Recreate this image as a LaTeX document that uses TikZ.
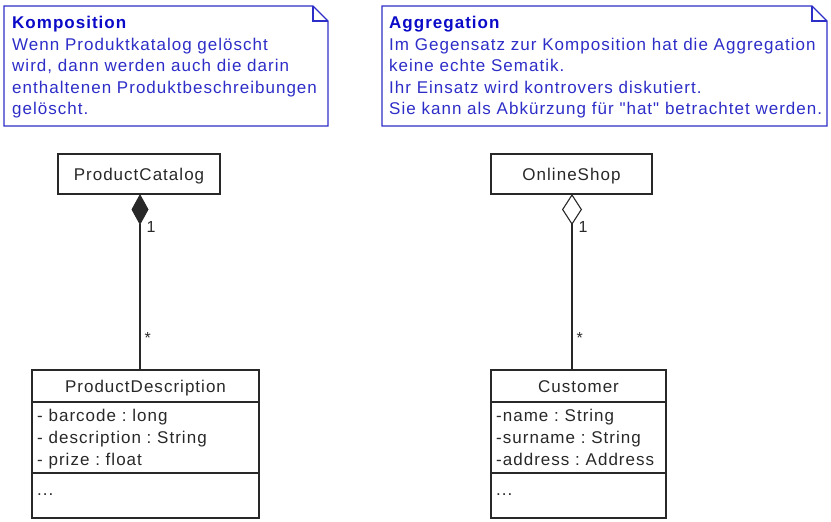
\documentclass[tikz,border=0pt]{standalone}
\usepackage{fontspec}
\setmainfont[LetterSpace=6,Ligatures=TeXOff]{Liberation Sans}
\frenchspacing
\usetikzlibrary{positioning,arrows.meta}
\definecolor{noteblue}{RGB}{45,45,200}
\definecolor{titleblue}{RGB}{10,10,200}
\definecolor{umlgray}{RGB}{40,40,40}
\tikzset{
  notebox/.style={draw=noteblue, line width=1.2pt},
  notetext/.style={anchor=north west, inner sep=0pt, align=left, text=noteblue,
    font=\fontsize{17}{21.6}\selectfont},
  classhead/.style={draw=umlgray, line width=1.1pt, inner sep=0pt, outer sep=0pt, text=umlgray,
    text height=13pt, text depth=0pt, font=\fontsize{17}{21}\selectfont},
  classpart/.style={draw=umlgray, line width=1.1pt, inner sep=0pt, outer sep=0pt, anchor=north,
    minimum width=#1},
  membertext/.style={anchor=north west, inner sep=0pt, align=left, text=umlgray,
    font=\fontsize{17}{21.8}\selectfont},
  mult/.style={inner sep=0pt, text=umlgray, font=\fontsize{16}{16}\selectfont},
  assoc/.style={draw=umlgray, line width=1.1pt},
}
\begin{document}
\begin{tikzpicture}[x=1pt,y=-1pt]
\useasboundingbox (0,0) rectangle (831,522);
% notes
\draw[notebox] (4,6) -- (313,6) -- (328,21) -- (328,126) -- (4,126) -- cycle;
\draw[notebox] (313,6) -- (313,21) -- (328,21);
\node[notetext] (komp) at (12,16) {\textcolor{titleblue}{\textbf{Komposition}}\\
  Wenn Produktkatalog gelöscht\\wird, dann werden auch die darin\\
  enthaltenen Produktbeschreibungen\\gelöscht.};
\draw[notebox] (382,6) -- (812,6) -- (827,21) -- (827,126) -- (382,126) -- cycle;
\draw[notebox] (812,6) -- (812,21) -- (827,21);
\node[notetext] (aggr) at (389,16) {\textcolor{titleblue}{\textbf{Aggregation}}\\
  Im Gegensatz zur Komposition hat die Aggregation\\keine echte Sematik.\\
  Ihr Einsatz wird kontrovers diskutiert.\\
  Sie kann als Abkürzung für "hat" betrachtet werden.};

% composition
\node[classhead, minimum width=162pt, minimum height=40pt] (catalog) at (139,174) {ProductCatalog};
\node[classhead, minimum width=227pt, minimum height=32pt] (desc) at (145.5,386) {ProductDescription};
\node[classpart=227pt, minimum height=71pt, below=0pt of desc.south] (descattr) {};
\node[classpart=227pt, minimum height=45pt, below=0pt of descattr.south] (descops) {};
\node[membertext] (descattrtxt) at ([xshift=5pt,yshift=-7pt]descattr.north west)
  {- barcode : long\\- description : String\\- prize : float};
\node[membertext] (descopstxt) at ([xshift=5pt,yshift=-20pt]descops.north west) {...};
\draw[assoc, {Diamond[length=31pt,width=17pt]}-] ([xshift=1pt]catalog.south)
  -- ([xshift=1pt]catalog.south |- desc.north)
  node[mult, pos=0.19, right=6pt] {1}
  node[mult, pos=0.82, right=4pt] {*};

% aggregation
\node[classhead, minimum width=161pt, minimum height=40pt] (shop) at (571.5,174) {OnlineShop};
\node[classhead, minimum width=175pt, minimum height=32pt] (cust) at (578.5,386) {Customer};
\node[classpart=175pt, minimum height=71pt, below=0pt of cust.south] (custattr) {};
\node[classpart=175pt, minimum height=45pt, below=0pt of custattr.south] (custops) {};
\node[membertext] (custattrtxt) at ([xshift=5pt,yshift=-7pt]custattr.north west)
  {-name : String\\-surname : String\\-address : Address};
\node[membertext] (custopstxt) at ([xshift=5pt,yshift=-20pt]custops.north west) {...};
\draw[assoc, {Diamond[open,length=31pt,width=20pt]}-] ([xshift=0.5pt]shop.south)
  -- ([xshift=0.5pt]shop.south |- cust.north)
  node[mult, pos=0.19, right=6pt] {1}
  node[mult, pos=0.82, right=4pt] {*};
\end{tikzpicture}
\end{document}
